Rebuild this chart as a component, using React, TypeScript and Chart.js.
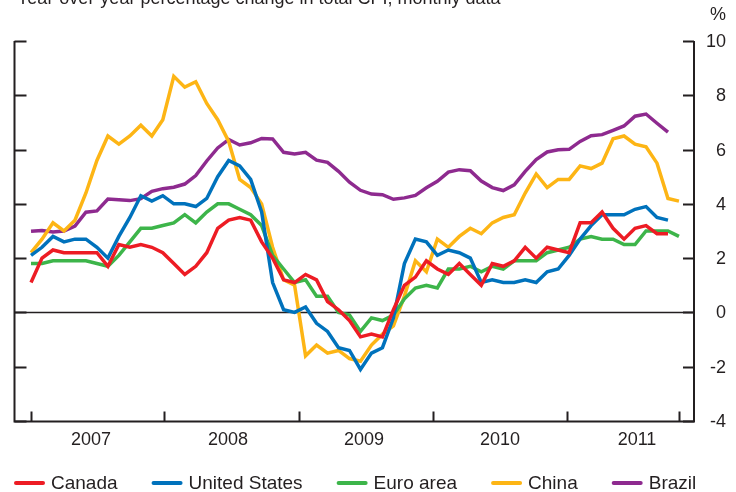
import React, { useEffect, useRef } from "react";
import { Chart, registerables } from "chart.js";

Chart.register(...registerables);

const years = ["2007", "2008", "2009", "2010", "2011"];
const monthCodes = ["01", "02", "03", "04", "05", "06", "07", "08", "09", "10", "11", "12"];
const months: string[] = years.flatMap((y) => monthCodes.map((m) => `${y}-${m}`));

const canada = [
  1.1, 2.0, 2.3, 2.2, 2.2, 2.2, 2.2, 1.7, 2.5, 2.4, 2.5, 2.4,
  2.2, 1.8, 1.4, 1.7, 2.2, 3.1, 3.4, 3.5, 3.4, 2.6, 2.0, 1.2,
  1.1, 1.4, 1.2, 0.4, 0.1, -0.3, -0.9, -0.8, -0.9, 0.1, 1.0, 1.3,
  1.9, 1.6, 1.4, 1.8, 1.4, 1.0, 1.8, 1.7, 1.9, 2.4, 2.0, 2.4,
  2.3, 2.2, 3.3, 3.3, 3.7, 3.1, 2.7, 3.1, 3.2, 2.9, 2.9,
];
const unitedStates = [
  2.1, 2.4, 2.8, 2.6, 2.7, 2.7, 2.4, 2.0, 2.8, 3.5, 4.3, 4.1,
  4.3, 4.0, 4.0, 3.9, 4.2, 5.0, 5.6, 5.4, 4.9, 3.7, 1.1, 0.1,
  0.0, 0.2, -0.4, -0.7, -1.3, -1.4, -2.1, -1.5, -1.3, -0.2, 1.8, 2.7,
  2.6, 2.1, 2.3, 2.2, 2.0, 1.1, 1.2, 1.1, 1.1, 1.2, 1.1, 1.5,
  1.6, 2.1, 2.7, 3.2, 3.6, 3.6, 3.6, 3.8, 3.9, 3.5, 3.4,
];
const euroArea = [
  1.8, 1.8, 1.9, 1.9, 1.9, 1.9, 1.8, 1.7, 2.1, 2.6, 3.1, 3.1,
  3.2, 3.3, 3.6, 3.3, 3.7, 4.0, 4.0, 3.8, 3.6, 3.2, 2.1, 1.6,
  1.1, 1.2, 0.6, 0.6, 0.0, -0.1, -0.7, -0.2, -0.3, -0.1, 0.5, 0.9,
  1.0, 0.9, 1.6, 1.6, 1.7, 1.5, 1.7, 1.6, 1.9, 1.9, 1.9, 2.2,
  2.3, 2.4, 2.7, 2.8, 2.7, 2.7, 2.5, 2.5, 3.0, 3.0, 3.0, 2.8,
];
const china = [
  2.2, 2.7, 3.3, 3.0, 3.4, 4.4, 5.6, 6.5, 6.2, 6.5, 6.9, 6.5,
  7.1, 8.7, 8.3, 8.5, 7.7, 7.1, 6.3, 4.9, 4.6, 4.0, 2.4, 1.2,
  1.0, -1.6, -1.2, -1.5, -1.4, -1.7, -1.8, -1.2, -0.8, -0.5, 0.6, 1.9,
  1.5, 2.7, 2.4, 2.8, 3.1, 2.9, 3.3, 3.5, 3.6, 4.4, 5.1, 4.6,
  4.9, 4.9, 5.4, 5.3, 5.5, 6.4, 6.5, 6.2, 6.1, 5.5, 4.2, 4.1,
];
const brazil = [
  2.99, 3.02, 2.96, 3.0, 3.18, 3.69, 3.74, 4.18, 4.15, 4.12, 4.19, 4.46,
  4.56, 4.61, 4.73, 5.04, 5.58, 6.06, 6.37, 6.17, 6.25, 6.41, 6.39, 5.9,
  5.84, 5.9, 5.61, 5.53, 5.2, 4.8, 4.5, 4.36, 4.34, 4.17, 4.22, 4.31,
  4.59, 4.83, 5.17, 5.26, 5.22, 4.84, 4.6, 4.49, 4.7, 5.2, 5.63, 5.91,
  5.99, 6.01, 6.3, 6.51, 6.55, 6.71, 6.87, 7.23, 7.31, 6.97, 6.64,
];

const seriesNames = ["Canada", "United States", "Euro area", "China", "Brazil"];
const seriesValues = [canada, unitedStates, euroArea, china, brazil];
const seriesColors = ["#ed1c24", "#0072bc", "#3db54a", "#fdb515", "#8e2a8f"];
const yTickValues = [-4, -2, 0, 2, 4, 6, 8, 10];
const yearLabels = years;
const titleText = "Year-over-year percentage change in total CPI, monthly data";
const unitText = "%";

const FONT = '18px "Liberation Sans", Arial, Helvetica, sans-serif';
const LEGEND_FONT = '19px "Liberation Sans", Arial, Helvetica, sans-serif';
const INK = "#231f20";

const decorPlugin = {
  id: "decor",
  beforeDatasetsDraw(chart: any) {
    const { ctx, chartArea } = chart;
    const y0 = Math.round(chart.scales.y.getPixelForValue(0)) + 0.5;
    ctx.save();
    ctx.strokeStyle = INK;
    ctx.lineWidth = 1.6;
    ctx.beginPath();
    ctx.moveTo(chartArea.left, y0);
    ctx.lineTo(chartArea.right, y0);
    ctx.stroke();
    ctx.restore();
  },
  afterDraw(chart: any) {
    const { ctx, chartArea } = chart;
    const xs = chart.scales.x;
    const ys = chart.scales.y;
    const opts = chart.options.plugins.decor;
    const L = chartArea.left + 0.5;
    const R = chartArea.right;
    const T = chartArea.top;
    const B = chartArea.bottom + 0.5;
    ctx.save();
    ctx.strokeStyle = INK;
    ctx.fillStyle = INK;
    ctx.lineWidth = 2;
    ctx.lineCap = "butt";
    // axes frame (no top)
    ctx.beginPath();
    ctx.moveTo(L, T);
    ctx.lineTo(L, B);
    ctx.lineTo(R, B);
    ctx.lineTo(R, T);
    ctx.stroke();
    // y ticks (inward)
    for (const v of yTickValues) {
      const py = Math.round(ys.getPixelForValue(v)) + 0.5;
      ctx.beginPath();
      ctx.moveTo(L, py);
      ctx.lineTo(L + 12, py);
      ctx.moveTo(R, py);
      ctx.lineTo(R - 11, py);
      ctx.stroke();
    }
    // x ticks (inward, upward)
    for (const m of opts.xTickMonths) {
      const px = Math.round(xs.getPixelForValue(m)) + 0.5;
      ctx.beginPath();
      ctx.moveTo(px, B);
      ctx.lineTo(px, B - 10);
      ctx.stroke();
    }
    ctx.font = FONT;
    // right labels
    ctx.textAlign = "right";
    ctx.textBaseline = "middle";
    for (const v of yTickValues) {
      ctx.fillText(String(v), 726, ys.getPixelForValue(v) + 1);
    }
    ctx.fillText(unitText, 726, 15);
    // year labels
    ctx.textAlign = "center";
    ctx.textBaseline = "middle";
    yearLabels.forEach((lab, i) => {
      ctx.fillText(lab, xs.getPixelForValue(opts.yearLabelMonths[i]), 440);
    });
    // title (cut off at top like the reference)
    ctx.textAlign = "left";
    ctx.textBaseline = "alphabetic";
    ctx.fillText(titleText, 17, 4);
    // legend
    ctx.font = LEGEND_FONT;
    let x = 14;
    const ly = 483;
    ctx.textBaseline = "middle";
    seriesNames.forEach((name, i) => {
      ctx.strokeStyle = seriesColors[i];
      ctx.lineWidth = 4;
      ctx.lineCap = "round";
      ctx.beginPath();
      ctx.moveTo(x + 2, ly);
      ctx.lineTo(x + 29, ly);
      ctx.stroke();
      ctx.fillStyle = INK;
      ctx.fillText(name, x + 37, ly + 1);
      x += 37 + ctx.measureText(name).width + 34;
    });
    ctx.restore();
  },
};

export default function App() {
  const ref = useRef<HTMLCanvasElement | null>(null);
  useEffect(() => {
    if (!ref.current) return;
    const datasets = seriesNames.map((name, i) => ({
      label: name,
      data: seriesValues[i].map((v, k) => ({ x: months.indexOf(months[k]), y: v })),
      borderColor: seriesColors[i],
      backgroundColor: seriesColors[i],
      borderWidth: 3.5,
      pointRadius: 0,
      tension: 0,
      fill: false,
      borderJoinStyle: "miter" as const,
    }));
    const chart = new Chart(ref.current, {
      type: "line",
      data: { datasets },
      plugins: [decorPlugin],
      options: {
        animation: false,
        responsive: false,
        layout: { padding: { left: 14, right: 42, top: 41, bottom: 71 } },
        scales: {
          x: { type: "linear", min: -1.55, max: 60.37, display: false },
          y: { type: "linear", min: -4, max: 10, display: false },
        },
        plugins: {
          legend: { display: false },
          tooltip: { enabled: false },
          decor: {
            xTickMonths: [0, 12.14, 24.4, 36.6, 48.77, 59],
            yearLabelMonths: [5.46, 17.93, 30.32, 42.7, 55.18],
          },
        } as any,
      },
    });
    return () => chart.destroy();
  }, []);
  return (
    <div style={{ position: "absolute", left: 0, top: 0, width: 736, height: 492, background: "#fff" }}>
      <canvas ref={ref} width={736} height={492} style={{ display: "block", width: 736, height: 492 }} />
    </div>
  );
}
